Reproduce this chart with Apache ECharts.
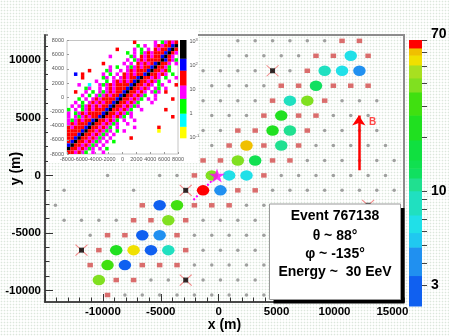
<!DOCTYPE html>
<html>
<head>
<meta charset="utf-8">
<title>Event 767138</title>
<script src="https://cdn.jsdelivr.net/npm/echarts@6.0.0/dist/echarts.min.js"></script>
<style>
  html, body { margin: 0; padding: 0; }
  body {
    background-color: #ffffff;
    background-image: radial-gradient(circle, #dce6dc 0.7px, rgba(255,255,255,0) 1.1px);
    background-size: 3px 3px;
  }
  #main { width: 449px; height: 336px; }
</style>
</head>
<body>
<div id="main"></div>
<script>
// ---- detector array, one string per row (top to bottom), one char per 1500 m slot ----
// o = quiet station, s = triggered station (red square), c = station with signal, x = bad station
var rowY = [11691, 10392, 9093, 7794, 6495, 5196, 3897, 2598, 1299, 0,
            -1299, -2598, -3897, -5196, -6495, -7794, -9093, -10392];
var rowFirstX = [-14850, -14100, -14850, -14100, -14850, -14100, -14850, -14100, -14850, -14100,
                 -14850, -14100, -14850, -14100, -14850, -14100, -14850, -14100];
var slotStep = 1500;
var rowLayout = [
    '...........ooooooss..',
    '..........ooooosscs..',
    '.........ooooxosccc..',
    '.........oooosscsss..',
    '.........oooosccsooo.',
    '.........oooscssooo..',
    '.........oossccsoooo.',
    '.........oscscsooooo.',
    '.........ssccssoooooo',
    '...o..ooscccsooooooo.',
    '.o...o..xccssoooooooo',
    'o....sccsssoo.....x..',
    '.oooosscsoooo........',
    '..ossccsooooo........',
    '..xsccccsoooo........',
    '..sccsssooooo........',
    '...cssooxoooo........',
    '...sooooooooo........'
];
// signal of each 'c' station, in reading order (VEM)
var hitSignal = [6.5, 8.5, 6, 4, 12.5, 9, 38, 22, 20, 10.5, 60, 11, 40, 14, 39, 7, 6.5,
                 68, 4.5, 3, 28, 37, 2.8, 4.2, 22, 54, 3.2, 9, 27, 3.3, 40];

var corePoint = [-150, 0];
var axisFoot = [-2200, -2150];
var fieldArrow = [[12100, 450], [12100, 5200]];
var fieldLabelAt = [13300, 4650];

// colour scale of the signal (edges in VEM, colours bottom to top)
var paletteEdges = [2.3, 3.4, 4.9, 5.9, 7.4, 10.1, 11.9, 13.5, 15, 19.4, 26.7, 35.9, 43, 50.8, 57.7, 63.2, 70];
var paletteColors = ['#1060f0', '#2090f0', '#20c8f0', '#20e0e8', '#20e0c0', '#20e090', '#10e060', '#10e050',
                     '#10e040', '#20e020', '#40e010', '#80e020', '#a8e020', '#f0e000', '#f0c000', '#ff0000'];
var barTicks = [3, 4, 5, 6, 7, 8, 9, 10, 20, 30, 40, 50, 60, 70];
var barLabels = [3, 10, 70];

var xTickLabels = [-10000, -5000, 0, 5000, 10000, 15000];
var yTickLabels = [-10000, -5000, 0, 5000, 10000];

// ---- inset: 2D histogram, 500 x 500 bins, rows from top ----
var insetMin = -8000, insetMax = 8000, insetBin = 500;
var insetRows = [
    '........ ........ ...r.... .m.gmrmr',
    '........ ........ ....g.m. .mrmrrbk',
    '........ ......r. ...m.g.m .rmrrbkr',
    '........ ........ .g.m.gmr mrrrbkrm',
    '........ ....m... ..gm.rmr mrrbkrm.',
    '........ ........ .m.gmrmr rrrkbrmg',
    '........ ..r..... m.m.rmrm rbkrrm.m',
    '........ ....m.g. .mgmrmrr bkrrmg..',
    '......r. ...gm..m .mrmrrrb krrmrg..',
    '..b.r... ..m.g.m. rmrmrrbk rrmrm.g.',
    '....r... ..gm.m.m rmrrbkrr mrm.g..m',
    '........ m..g.mrm rmrbkrrm rmg..m..',
    '...m..c. .mgmrmrr rrbkrrmr m.gm...r',
    '.....gm. .m.mrmrr rbkrrmrm .mg.m...',
    '..r..m.g .mgmrmrr bkrrmrm. mgm.r...',
    '....m.g. mgmrmrrb krrmrmg. .m......',
    '...g.m.m rmrrrrbk rrmrmg.m .m....r.',
    '..m.g.mr mrmrrbkr rmrmg... m.......',
    '.m.mgmrm rmrrbkrr mrmgm... ........',
    'g.m.gmrm rrrbkrrm rmg..m.. ....r...',
    'm.gmrmrr rrbkrrmr mgm..... ........',
    'm.mgmrmr rbkrrmrm g.m..... ......r.',
    'mgmrmrrb krrmrmg. m..m.... ........',
    'mrmrrrbk rrmrmgm. .m...... ........',
    'rmrrrbkr rmrmg.m. ...m.... ..r.....',
    'rrrrbkrr mrmgm.g. m....... ..y.....',
    'rrrbkrrm rmgm.m.. ........ ........',
    'rrbkrrmr mgm.m... ..r..... ........',
    'rbkrrmrm gm.m.g.. ........ ........',
    'bkrrmrmg m.m..... ........ ........',
    'krrmrmgm .m.g.... ........ ........',
    'rrmrmg.m ..m..... ........ ........'
].map(function (s) { return s.replace(/ /g, ''); });
var insetKeys = '.ycgmrbk';
var insetCellColors = ['#ffffff', '#ffff00', '#00ffff', '#00ff00', '#ff00ff', '#ff0000', '#0000ff', '#000000'];
// inset colour bar, log10 edges, colours bottom to top
var insetBarEdges = [-1.26, -1.03, -0.55, 0, 0.62, 1.18, 1.8, 2.3, 3.07];
var insetBarColors = ['#ffffff', '#ffff00', '#00ffff', '#00ff00', '#ff00ff', '#ff0000', '#0000ff', '#000000'];
var insetBarLabels = [-1, 0, 1, 2, 3];

// ---- build series data ----
var quiet = [], trig = [], hits = [], bad = [];
var h = 0;
rowLayout.forEach(function (row, i) {
    for (var k = 0; k < row.length; k++) {
        var ch = row.charAt(k);
        if (ch === '.') continue;
        var p = [rowFirstX[i] + k * slotStep, rowY[i]];
        if (ch === 'o') quiet.push(p);
        else if (ch === 's') trig.push(p);
        else if (ch === 'x') bad.push(p);
        else if (ch === 'c') { hits.push([p[0], p[1], hitSignal[h]]); h++; }
    }
});

function signalColor(v) {
    for (var i = 0; i < paletteColors.length; i++) {
        if (v < paletteEdges[i + 1]) return paletteColors[i];
    }
    return paletteColors[paletteColors.length - 1];
}

var barData = [];
for (var b = 0; b < paletteColors.length; b++) {
    barData.push([Math.log10(paletteEdges[b]), Math.log10(paletteEdges[b + 1]), b]);
}

var insetCells = [];
insetRows.forEach(function (row, r) {
    for (var c = 0; c < row.length; c++) {
        var lv = insetKeys.indexOf(row.charAt(c));
        if (lv > 0) insetCells.push([insetMin + (c + 0.5) * insetBin, insetMax - (r + 0.5) * insetBin, lv]);
    }
});
var insetBarData = [];
for (var q = 0; q < insetBarColors.length; q++) {
    insetBarData.push([insetBarEdges[q], insetBarEdges[q + 1], q]);
}

// tick marks of the main frame
var xMajor = [], xMinor = [], yMajor = [], yMinor = [];
for (var t = -15000; t <= 16000; t += 1000) { xMinor.push(t); if (t % 5000 === 0) xMajor.push(t); }
for (var u = -10000; u <= 12000; u += 1250) { yMinor.push(u); if (u % 5000 === 0) yMajor.push(u); }

var FONT = 'Liberation Sans, Arial, Helvetica, sans-serif';
function plain(v) { return String(v); }

var myChart = echarts.init(document.getElementById('main'));
var option = {
    animation: false,
    grid: [
        {left: 45, top: 35, width: 359, height: 267, show: true, borderColor: '#8c8c8c', borderWidth: 2,
            outerBoundsMode: 'none', containLabel: false},
        {left: 409, top: 40, width: 13, height: 266, outerBoundsMode: 'none', containLabel: false},
        {left: 67, top: 40.5, width: 111, height: 113.5, show: true, backgroundColor: '#fff',
            borderColor: '#c4c4c4', borderWidth: 1, z: 5, outerBoundsMode: 'none', containLabel: false},
        {left: 180, top: 40, width: 6.5, height: 103.5, z: 5, outerBoundsMode: 'none', containLabel: false}
    ],
    xAxis: [
        {
            gridIndex: 0, type: 'value', min: -15000, max: 16000, z: 1,
            name: 'x (m)', nameLocation: 'middle', nameGap: 16, nameMoveOverlap: false,
            nameTextStyle: {fontFamily: FONT, fontWeight: 'bold', fontSize: 14, color: '#000'},
            axisLine: {onZero: false, lineStyle: {color: '#333', width: 1.5}},
            axisTick: {inside: true, length: 8, customValues: xMajor, lineStyle: {color: '#333'}},
            axisLabel: {customValues: xTickLabels, formatter: plain, margin: 4, fontFamily: FONT,
                fontWeight: 'bold', fontSize: 11.5, color: '#000'},
            splitLine: {show: false}
        },
        {
            gridIndex: 0, type: 'value', min: -15000, max: 16000, position: 'bottom', z: 1,
            axisLine: {show: false, onZero: false},
            axisTick: {inside: true, length: 4.5, customValues: xMinor, lineStyle: {color: '#333'}},
            axisLabel: {show: false}, splitLine: {show: false}
        },
        {gridIndex: 1, type: 'value', min: 0, max: 1, show: false},
        {
            gridIndex: 2, type: 'value', min: insetMin, max: insetMax, interval: 2000, z: 6,
            axisLine: {show: false, onZero: false},
            axisTick: {inside: true, length: 2, lineStyle: {color: '#999'}},
            axisLabel: {formatter: plain, margin: 2, fontFamily: FONT, fontSize: 5.5, color: '#555'},
            splitLine: {show: false}
        },
        {gridIndex: 3, type: 'value', min: 0, max: 1, show: false}
    ],
    yAxis: [
        {
            gridIndex: 0, type: 'value', min: -11000, max: 12200, z: 1,
            name: 'y (m)', nameLocation: 'middle', nameGap: 22, nameRotate: 90, nameMoveOverlap: false,
            nameTextStyle: {fontFamily: FONT, fontWeight: 'bold', fontSize: 14, color: '#000'},
            axisLine: {onZero: false, lineStyle: {color: '#333', width: 1.5}},
            axisTick: {inside: true, length: 8, customValues: yMajor, lineStyle: {color: '#333'}},
            axisLabel: {customValues: yTickLabels, formatter: plain, margin: 4, fontFamily: FONT,
                fontWeight: 'bold', fontSize: 11.5, color: '#000'},
            splitLine: {show: false}
        },
        {
            gridIndex: 0, type: 'value', min: -11000, max: 12200, position: 'left', z: 1,
            axisLine: {show: false, onZero: false},
            axisTick: {inside: true, length: 4.5, customValues: yMinor, lineStyle: {color: '#333'}},
            axisLabel: {show: false}, splitLine: {show: false}
        },
        {
            gridIndex: 1, type: 'value', position: 'right',
            min: Math.log10(paletteEdges[0]), max: Math.log10(paletteEdges[paletteEdges.length - 1]),
            axisLine: {show: false, onZero: false},
            axisTick: {length: 5, customValues: barTicks.map(Math.log10), lineStyle: {color: '#444'}},
            axisLabel: {
                customValues: barLabels.map(Math.log10), margin: 9,
                formatter: function (v) {
                    var n = Math.round(Math.pow(10, v));
                    return n === 70 ? '{top|70}' : '{n|' + n + '}';
                },
                rich: {
                    top: {fontFamily: FONT, fontWeight: 'bold', fontSize: 14, color: '#000', padding: [0, 0, 11, 0]},
                    n: {fontFamily: FONT, fontWeight: 'bold', fontSize: 14, color: '#000'}
                }
            },
            splitLine: {show: false}
        },
        {
            gridIndex: 2, type: 'value', min: insetMin, max: insetMax, interval: 2000, z: 6,
            axisLine: {show: false, onZero: false},
            axisTick: {inside: true, length: 2, lineStyle: {color: '#999'}},
            axisLabel: {formatter: plain, margin: 3, fontFamily: FONT, fontSize: 5.5, color: '#555'},
            splitLine: {show: false}
        },
        {
            gridIndex: 3, type: 'value', position: 'right', z: 6,
            min: insetBarEdges[0], max: insetBarEdges[insetBarEdges.length - 1],
            axisLine: {show: false, onZero: false},
            axisTick: {show: false},
            axisLabel: {
                customValues: insetBarLabels, margin: 3,
                formatter: function (v) {
                    if (v === 0) return '{b|1}';
                    if (v === 1) return '{b|10}';
                    return '{b|10}{s|' + v + '}';
                },
                rich: {
                    b: {fontFamily: FONT, fontSize: 5.5, color: '#555'},
                    s: {fontFamily: FONT, fontSize: 4, color: '#555', verticalAlign: 'top', padding: [0, 0, 3, 0]}
                }
            },
            splitLine: {show: false}
        }
    ],
    graphic: [
        // white pad of the inset
        {type: 'rect', z: 3, shape: {x: 48, y: 29, width: 150, height: 134}, style: {fill: '#fff'}},
        // event box with drop shadow
        {type: 'rect', z: 10, shape: {x: 273.5, y: 208, width: 131, height: 95.5}, style: {fill: '#000'}},
        {type: 'rect', z: 11, shape: {x: 269.5, y: 204, width: 131, height: 95.5},
            style: {fill: '#fff', stroke: '#999', lineWidth: 1}},
        {type: 'text', z: 12, x: 335, y: 216, style: {text: 'Event 767138', font: 'bold 14px ' + FONT,
            fill: '#000', align: 'center', verticalAlign: 'middle'}},
        {type: 'text', z: 12, x: 335, y: 236, style: {text: 'θ ~ 88°', font: 'bold 14px ' + FONT,
            fill: '#000', align: 'center', verticalAlign: 'middle'}},
        {type: 'text', z: 12, x: 335, y: 254, style: {text: 'φ ~ -135°', font: 'bold 14px ' + FONT,
            fill: '#000', align: 'center', verticalAlign: 'middle'}},
        {type: 'text', z: 12, x: 335, y: 272, style: {text: 'Energy ~  30 EeV', font: 'bold 14px ' + FONT,
            fill: '#000', align: 'center', verticalAlign: 'middle'}}
    ],
    series: [
        {
            name: 'quiet', type: 'scatter', xAxisIndex: 0, yAxisIndex: 0, z: 2,
            symbol: 'circle', symbolSize: 3.5, itemStyle: {color: '#8a8a8a'}, data: quiet
        },
        {
            name: 'triggered', type: 'scatter', xAxisIndex: 0, yAxisIndex: 0, z: 2,
            symbol: 'rect', symbolSize: [5.5, 4.5], itemStyle: {color: '#d24a4a'}, data: trig
        },
        {
            name: 'bad cross', type: 'scatter', xAxisIndex: 0, yAxisIndex: 0, z: 2,
            symbol: 'path://M0,0L10,10M10,0L0,10', symbolSize: [12, 11],
            itemStyle: {color: 'transparent', borderColor: '#f06a6a', borderWidth: 1}, data: bad
        },
        {
            name: 'bad', type: 'scatter', xAxisIndex: 0, yAxisIndex: 0, z: 2,
            symbol: 'rect', symbolSize: 5, itemStyle: {color: '#000'}, data: bad
        },
        {
            name: 'shower axis', type: 'lines', coordinateSystem: 'cartesian2d', xAxisIndex: 0, yAxisIndex: 0, z: 3,
            lineStyle: {color: '#ff00ff', width: 2, type: 'dotted', opacity: 1},
            data: [{coords: [corePoint, axisFoot]}]
        },
        {
            name: 'signal', type: 'scatter', xAxisIndex: 0, yAxisIndex: 0, z: 4,
            symbol: 'circle', symbolSize: [12.5, 10.5],
            itemStyle: {color: function (p) { return signalColor(p.value[2]); }, opacity: 1},
            data: hits
        },
        {
            name: 'core', type: 'scatter', xAxisIndex: 0, yAxisIndex: 0, z: 5,
            symbol: 'path://M50,0L61,35L98,35L68,57L79,91L50,70L21,91L32,57L2,35L39,35Z',
            symbolSize: [16, 14], itemStyle: {color: '#ff00ff'}, data: [corePoint]
        },
        {
            name: 'B', type: 'lines', coordinateSystem: 'cartesian2d', xAxisIndex: 0, yAxisIndex: 0, z: 3,
            symbol: ['none', 'arrow'], symbolSize: [7, 10],
            lineStyle: {color: '#ff0000', width: 2.5, opacity: 1},
            data: [{coords: fieldArrow}]
        },
        {
            name: 'B label', type: 'scatter', xAxisIndex: 0, yAxisIndex: 0, z: 3,
            symbolSize: 0, data: [fieldLabelAt],
            label: {show: true, position: 'inside', formatter: 'B', fontFamily: FONT, fontWeight: 'bold',
                fontSize: 10, color: '#ff1a1a'}
        },
        {
            name: 'colour bar', type: 'custom', xAxisIndex: 2, yAxisIndex: 2, data: barData,
            renderItem: function (params, api) {
                var p0 = api.coord([0, api.value(1)]);
                var p1 = api.coord([1, api.value(0)]);
                return {type: 'rect', shape: {x: p0[0], y: p0[1], width: p1[0] - p0[0], height: p1[1] - p0[1] + 0.5},
                    style: {fill: paletteColors[api.value(2)]}};
            }
        },
        {
            name: 'inset', type: 'custom', xAxisIndex: 3, yAxisIndex: 3, z: 6, data: insetCells,
            renderItem: function (params, api) {
                var p0 = api.coord([api.value(0) - insetBin / 2, api.value(1) + insetBin / 2]);
                var p1 = api.coord([api.value(0) + insetBin / 2, api.value(1) - insetBin / 2]);
                return {type: 'rect', shape: {x: p0[0], y: p0[1], width: p1[0] - p0[0], height: p1[1] - p0[1]},
                    style: {fill: insetCellColors[api.value(2)]}};
            }
        },
        {
            name: 'inset bar', type: 'custom', xAxisIndex: 4, yAxisIndex: 4, z: 6, data: insetBarData,
            renderItem: function (params, api) {
                var p0 = api.coord([0, api.value(1)]);
                var p1 = api.coord([1, api.value(0)]);
                return {type: 'rect', shape: {x: p0[0], y: p0[1], width: p1[0] - p0[0], height: p1[1] - p0[1] + 0.3},
                    style: {fill: insetBarColors[api.value(2)]}};
            }
        }
    ]
};
myChart.setOption(option);
</script>
</body>
</html>
